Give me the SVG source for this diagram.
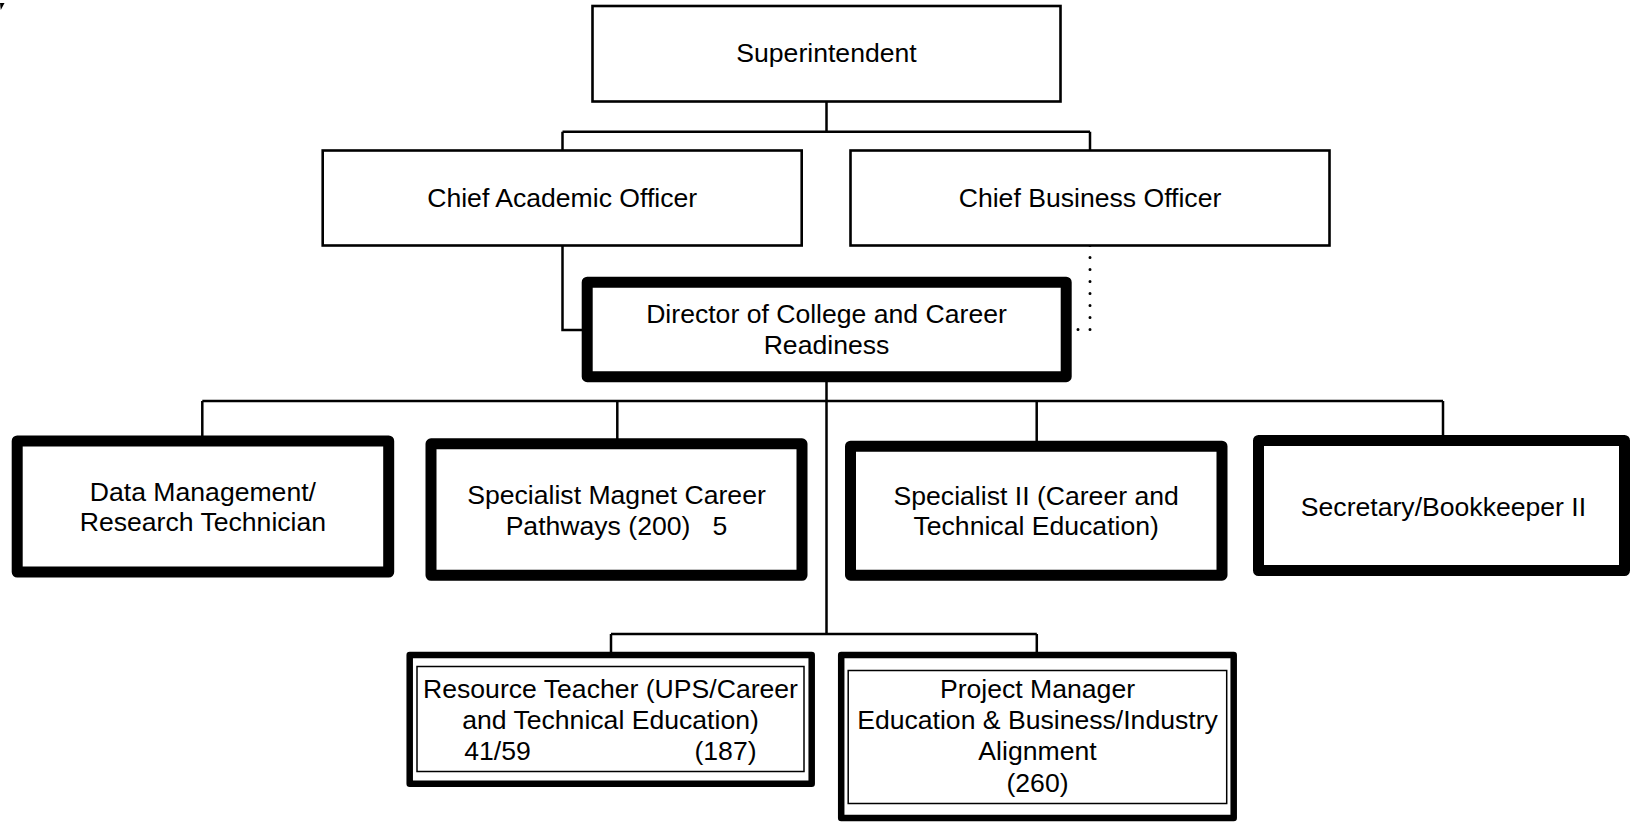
<svg xmlns="http://www.w3.org/2000/svg" width="1630" height="822" viewBox="0 0 1630 822">
<style>
text{font-family:"Liberation Sans",Arial,sans-serif;font-size:26.6px;fill:#000;text-anchor:middle}
.thin{fill:#fff;stroke:#000;stroke-width:2.6}
.thick{fill:#fff;stroke:#000;stroke-width:11;stroke-linejoin:round}
.mid{fill:#fff;stroke:#000;stroke-width:6.5;stroke-linejoin:round}
.inner{fill:none;stroke:#000;stroke-width:1.5}
.con{fill:none;stroke:#000;stroke-width:2.5}
.dot{fill:none;stroke:#000;stroke-width:3;stroke-linecap:round;stroke-dasharray:0 12}
</style>
<rect width="1630" height="822" fill="#fff"/>
<polygon points="0,3 4.5,3 0.8,10" fill="#000"/>
<g id="connectors">
<path class="con" d="M826.5 101.7V131.7M562.5 131.7H1090M562.5 131.7V150M1090 131.7V150"/>
<path class="con" d="M562.5 245.7V330H582"/>
<path class="dot" d="M1090 245.5V329.5H1077.5"/>
<path class="con" d="M826.5 382V634M202.3 401H1443M202.3 401V436M617.3 401V439M1036.7 401V441M1443 401V436"/>
<path class="con" d="M611 634H1036.8M611 634V652M1036.8 634V652"/>
</g>
<g id="superintendent">
<rect class="thin" x="592.5" y="6" width="468" height="95.5"/>
<text x="826.5" y="62">Superintendent</text>
</g>
<g id="chief-academic">
<rect class="thin" x="322.7" y="150.5" width="479" height="95"/>
<text x="562.2" y="207">Chief Academic Officer</text>
</g>
<g id="chief-business">
<rect class="thin" x="850.5" y="150.5" width="479" height="95"/>
<text x="1090" y="207">Chief Business Officer</text>
</g>
<g id="director">
<rect class="thick" x="587.2" y="282.2" width="479" height="94.5"/>
<text x="826.5" y="323">Director of College and Career</text>
<text x="826.5" y="354">Readiness</text>
</g>
<g id="data-management">
<rect class="thick" x="17.2" y="441" width="371.5" height="131"/>
<text x="202.9" y="500.5">Data Management/</text>
<text x="202.9" y="531">Research Technician</text>
</g>
<g id="specialist-magnet">
<rect class="thick" x="431" y="443.8" width="371" height="131.5"/>
<text x="616.5" y="504">Specialist Magnet Career</text>
<text x="616.5" y="534.5" xml:space="preserve">Pathways (200)   5</text>
</g>
<g id="specialist-ii">
<rect class="thick" x="850.5" y="446.2" width="371.5" height="129"/>
<text x="1036.2" y="504.5">Specialist II (Career and</text>
<text x="1036.2" y="535">Technical Education)</text>
</g>
<g id="secretary">
<rect class="thick" x="1258.5" y="440.5" width="366" height="130"/>
<text x="1443.5" y="516">Secretary/Bookkeeper II</text>
</g>
<g id="resource-teacher">
<rect class="mid" x="409.7" y="655" width="402" height="128.8"/>
<rect class="inner" x="417" y="666.5" width="387" height="105"/>
<text x="610.5" y="697.5">Resource Teacher (UPS/Career</text>
<text x="610.5" y="728.8">and Technical Education)</text>
<text y="760"><tspan x="497.5">41/59</tspan><tspan x="725.5">(187)</tspan></text>
</g>
<g id="project-manager">
<rect class="mid" x="841.2" y="655" width="392.5" height="163"/>
<rect class="inner" x="848.2" y="670.5" width="378.5" height="133"/>
<text x="1037.5" y="697.5">Project Manager</text>
<text x="1037.5" y="728.8">Education &amp; Business/Industry</text>
<text x="1037.5" y="760">Alignment</text>
<text x="1037.5" y="792">(260)</text>
</g>
</svg>
